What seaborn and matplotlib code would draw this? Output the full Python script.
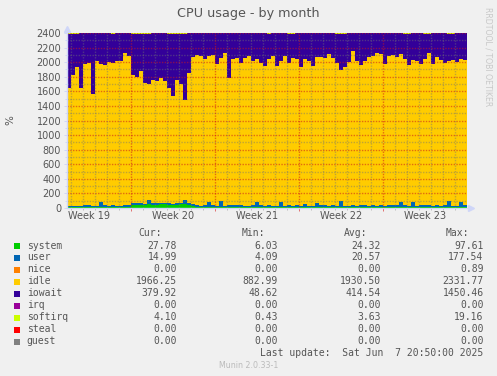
import numpy as np
import pandas as pd
import matplotlib
matplotlib.use("Agg")
import matplotlib.pyplot as plt
import matplotlib.transforms as mtransforms
import seaborn as sns
from matplotlib.patches import Rectangle

# ---------------- data ----------------
series_names = ["system", "user", "nice", "idle", "iowait", "irq", "softirq", "steal", "guest"]
series_colors = ["#00CC00", "#0066B3", "#FF8000", "#FFCC00", "#330099",
                 "#990099", "#CCFF00", "#FF0000", "#808080"]

capacity = 2400          # 24 cores * 100 %
bin_hours = 8            # each sample covers 8 hours, 100 samples = whole month view

# top edge of the idle (yellow) area
idle_top = [1640, 1830, 1940, 1650, 1980, 1990, 1560, 2010, 1980, 1960,
            2000, 1990, 2020, 2010, 2130, 2090, 1830, 1790, 1880, 1720,
            1700, 1760, 1740, 1780, 1740, 1640, 1540, 1760, 1700, 1480,
            1850, 2070, 2100, 2090, 2040, 2080, 2100, 1980, 2060, 2120,
            1780, 2040, 2060, 1990, 2060, 2080, 2010, 2040, 1990, 1950,
            2050, 2090, 1950, 2010, 2080, 1990, 2060, 2040, 1940, 2040,
            2020, 1950, 2070, 2070, 2060, 2110, 2060, 1990, 1890, 1940,
            2000, 2160, 2010, 1960, 2010, 2070, 2080, 2130, 2110, 1980,
            2090, 2100, 2070, 2110, 2040, 1960, 2030, 2020, 1980, 2040,
            2120, 1980, 2070, 2030, 1990, 2020, 2030, 2000, 2050, 2030]

system = [16, 17, 15, 16, 18, 17, 16, 15, 18, 17,
          16, 15, 17, 18, 16, 20, 42, 46, 48, 44,
          50, 47, 45, 52, 49, 46, 44, 48, 50, 55,
          46, 30, 18, 17, 16, 15, 18, 17, 16, 15,
          17, 16, 18, 17, 16, 15, 17, 16, 18, 15,
          16, 17, 15, 18, 16, 17, 15, 16, 18, 17,
          16, 15, 17, 16, 18, 17, 15, 16, 17, 16,
          15, 18, 16, 17, 15, 16, 18, 17, 16, 15,
          17, 16, 18, 15, 16, 17, 16, 15, 18, 17,
          16, 15, 17, 16, 18, 16, 15, 17, 16, 17]

user = [18, 16, 19, 17, 18, 20, 17, 16, 58, 19,
        18, 20, 17, 16, 19, 18, 20, 18, 19, 17,
        55, 20, 18, 19, 21, 18, 17, 19, 20, 60,
        22, 19, 18, 17, 20, 73, 18, 17, 83, 19,
        18, 20, 17, 19, 16, 18, 20, 68, 17, 18,
        19, 16, 18, 58, 17, 19, 18, 20, 16, 43,
        18, 17, 58, 19, 18, 16, 20, 17, 73, 18,
        17, 19, 16, 18, 20, 17, 18, 16, 19, 17,
        18, 20, 17, 68, 19, 16, 63, 18, 17, 19,
        20, 16, 18, 17, 19, 83, 18, 17, 63, 18]

softirq = [12, 14, 10, 3, 3, 4, 3, 3, 3, 4,
           3, 10, 3, 3, 4, 3, 14, 16, 12, 15,
           13, 3, 4, 3, 3, 12, 15, 16, 18, 14,
           3, 3, 4, 3, 3, 3, 3, 4, 3, 3,
           3, 3, 3, 4, 3, 3, 3, 3, 3, 3,
           10, 3, 3, 4, 3, 11, 10, 3, 4, 3,
           3, 3, 3, 3, 3, 3, 3, 12, 13, 11,
           3, 3, 3, 3, 3, 3, 3, 3, 3, 3,
           3, 3, 3, 3, 12, 10, 3, 3, 3, 12,
           11, 3, 3, 3, 3, 12, 10, 3, 3, 3]

zero_series = [0] * len(idle_top)   # nice, irq, steal, guest are flat zero

week_labels = ["Week 19", "Week 20", "Week 21", "Week 22", "Week 23"]
week_starts = [128, 296, 464, 632]      # hours from left edge of the graph
first_day_hour = 8

stat_cur = [27.78, 14.99, 0.00, 1966.25, 379.92, 0.00, 4.10, 0.00, 0.00]
stat_min = [6.03, 4.09, 0.00, 882.99, 48.62, 0.00, 0.43, 0.00, 0.00]
stat_avg = [24.32, 20.57, 0.00, 1930.50, 414.54, 0.00, 3.63, 0.00, 0.00]
stat_max = [97.61, 177.54, 0.89, 2331.77, 1450.46, 0.00, 19.16, 0.00, 0.00]

# ---------------- build long table ----------------
idle_top_a = np.array(idle_top, float)
sys_a = np.array(system, float)
usr_a = np.array(user, float)
sirq_a = np.array(softirq, float)
values = {
    "system": sys_a,
    "user": usr_a,
    "nice": np.array(zero_series, float),
    "idle": idle_top_a - sys_a - usr_a,
    "iowait": capacity - idle_top_a - sirq_a,
    "irq": np.array(zero_series, float),
    "softirq": sirq_a,
    "steal": np.array(zero_series, float),
    "guest": np.array(zero_series, float),
}
n = len(idle_top)
hours = np.arange(n) * bin_hours + bin_hours / 2
rows = []
for name in series_names:
    for h, v in zip(hours, values[name]):
        rows.append((h, v, name))
df = pd.DataFrame(rows, columns=["hour", "value", "series"])
total_hours = n * bin_hours

# ---------------- figure ----------------
sns.set_theme(style="white")
plt.rcParams["font.family"] = ["DejaVu Sans"]

W, H = 497, 376
BG = "#F0F0F0"
TXT = "#555555"
AXC = "#CFD6F8"
fig = plt.figure(figsize=(W / 100, H / 100), dpi=100, facecolor=BG)

px_l, px_r, px_t, px_b = 67, 467, 33, 208
ax = fig.add_axes([px_l / W, 1 - px_b / H, (px_r - px_l) / W, (px_b - px_t) / H])
ax.set_facecolor("white")

palette = dict(zip(series_names, series_colors))
stack_order = series_names[::-1]  # seaborn puts first hue level on top
sns.histplot(data=df, x="hour", weights="value", hue="series",
             hue_order=stack_order, palette=palette, multiple="stack",
             bins=n, binrange=(0, total_hours), element="step", fill=True,
             alpha=1, linewidth=0, legend=False, ax=ax)

ax.set_xlim(0, total_hours)
ax.set_ylim(0, capacity)
ax.set_xlabel("")
ax.set_ylabel("")
for s in ax.spines.values():
    s.set_visible(False)

# grid (drawn over the data like rrdtool)
minor_c = (0.45, 0.45, 0.45, 0.45)
major_c = (0.80, 0.10, 0.10, 0.55)
dot = (0, (1, 1))
grid_kw = dict(lw=1.0, ls=dot, zorder=5)
for yv in range(100, capacity + 1, 100):
    major = yv % 200 == 0
    ax.axhline(yv, color=major_c if major else minor_c, **grid_kw)
for d in np.arange(first_day_hour, total_hours, 24):
    if d in week_starts:
        continue
    ax.axvline(d, color=minor_c, **grid_kw)
for wv in week_starts:
    ax.axvline(wv, color=major_c, **grid_kw)

# ticks
ax.set_yticks(np.arange(0, capacity + 1, 200))
ax.set_yticks(np.arange(0, capacity + 1, 100), minor=True)
ax.set_yticklabels([str(v) for v in range(0, capacity + 1, 200)])
ax.tick_params(axis="y", which="major", length=2.2, width=0.7, color=AXC,
               pad=2, labelsize=7, labelcolor=TXT, left=True)
ax.tick_params(axis="y", which="minor", length=1.5, width=0.7, color=AXC, left=True)
ax.set_xticks(week_starts)
ax.set_xticklabels([""] * len(week_starts))
ax.set_xticks([d for d in np.arange(first_day_hour, total_hours, 24) if d not in week_starts], minor=True)
ax.tick_params(axis="x", which="major", length=2.5, width=0.7, color="#E07070", bottom=True)
ax.tick_params(axis="x", which="minor", length=1.6, width=0.7, color="#BBBBBB", bottom=True)

trans = mtransforms.blended_transform_factory(ax.transData, fig.transFigure)
for i, lab in enumerate(week_labels):
    xc = week_starts[0] - 84 + i * 168
    ax.text(xc, 1 - 216 / H, lab, transform=trans, ha="center", va="center",
            fontsize=7, color=TXT)

# axis lines with arrows
fig.add_artist(plt.Line2D([px_l / W, 471 / W], [1 - px_b / H] * 2, color=AXC, lw=1))
fig.add_artist(plt.Line2D([px_l / W] * 2, [1 - px_b / H, 1 - 30 / H], color=AXC, lw=1))
fig.add_artist(plt.Line2D([471 / W], [1 - px_b / H], marker=">", ms=4.5, color=AXC, mec=AXC))
fig.add_artist(plt.Line2D([px_l / W], [1 - 29 / H], marker="^", ms=4.5, color=AXC, mec=AXC))

# titles
fig.text(248 / W, 1 - 14 / H, "CPU usage - by month", ha="center", va="center",
         fontsize=9.2, color=TXT)
fig.text(10 / W, 1 - 120 / H, "%", rotation=90, ha="center", va="center",
         fontsize=7.5, color=TXT)
fig.text(488 / W, 1 - 57 / H, "RRDTOOL / TOBI OETIKER", rotation=270,
         ha="center", va="center", fontsize=5.6, color="#C8C8C8")

# legend table
mono = "DejaVu Sans Mono"
fs = 7
hdr_y = 233.3
for lab, xr in zip(["Cur:", "Min:", "Avg:", "Max:"], [162, 265, 367, 469.5]):
    fig.text(xr / W, 1 - hdr_y / H, lab, ha="right", va="center",
             family=mono, fontsize=fs, color=TXT)
cols = [(stat_cur, 177), (stat_min, 278), (stat_avg, 381), (stat_max, 483.5)]
for i, name in enumerate(series_names):
    yc = 245.5 + 12 * i
    fig.add_artist(Rectangle((14 / W, 1 - (yc + 3) / H), 6 / W, 6 / H,
                             transform=fig.transFigure, color=series_colors[i], lw=0))
    fig.text(26.7 / W, 1 - yc / H, name, ha="left", va="center",
             family=mono, fontsize=fs, color=TXT)
    for arr, xr in cols:
        fig.text(xr / W, 1 - yc / H, f"{arr[i]:.2f}", ha="right", va="center",
                 family=mono, fontsize=fs, color=TXT)

fig.text(483.5 / W, 1 - 353.3 / H, "Last update:  Sat Jun  7 20:50:00 2025",
         ha="right", va="center", family=mono, fontsize=fs, color=TXT)
fig.text(248.5 / W, 1 - 365 / H, "Munin 2.0.33-1", ha="center", va="center",
         fontsize=5.7, color="#BBBBBB")

fig.savefig("out.png", dpi=100, facecolor=BG)
